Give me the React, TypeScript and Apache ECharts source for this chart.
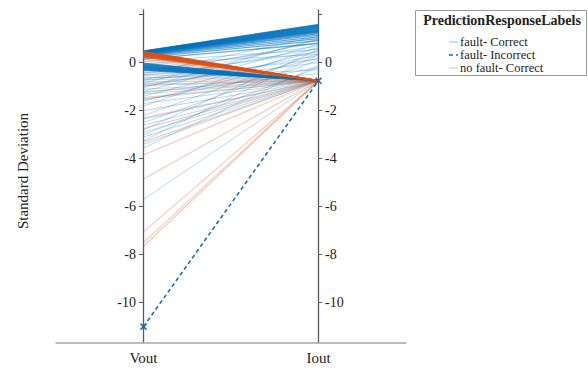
import React, { useEffect, useRef } from "react";
import * as echarts from "echarts";

// Axis labels
const coordNames = ["Vout", "Iout"];
const yTicks = [-10, -8, -6, -4, -2, 0, 2];
const yLabelTicks = [-10, -8, -6, -4, -2, 0];

// fault- Correct: dense upper bundle [Vout, Iout]
const faultUpper: [number, number][] = [
  [0.49, 1.6], [0.48, 1.58], [0.47, 1.56], [0.47, 1.54], [0.46, 1.52], [0.45, 1.5],
  [0.45, 1.48], [0.44, 1.46], [0.43, 1.44], [0.43, 1.42], [0.42, 1.4], [0.41, 1.38],
  [0.4, 1.36], [0.4, 1.34], [0.39, 1.32], [0.38, 1.3], [0.37, 1.27], [0.36, 1.24],
  [0.34, 1.2], [0.32, 1.15], [0.3, 1.08], [0.27, 1.0], [0.22, 0.92], [0.15, 0.8],
];

// fault- Correct: dense lower band converging to Iout -0.75
const faultLower: [number, number][] = [
  [-0.02, -0.74], [-0.04, -0.75], [-0.06, -0.75], [-0.08, -0.74], [-0.1, -0.75],
  [-0.12, -0.76], [-0.14, -0.75], [-0.16, -0.75], [-0.18, -0.74], [-0.2, -0.75],
  [-0.22, -0.76], [-0.24, -0.75], [-0.26, -0.75], [-0.28, -0.75], [-0.3, -0.74],
  [-0.32, -0.75],
];

// fault- Correct: scattered lines
const faultScatter: [number, number][] = [
  [0.05, 0.55], [-0.05, 0.35], [-0.35, 0.7], [-0.45, 1.1], [-0.5, 0.85], [-0.55, 0.45],
  [-0.6, -0.75], [-0.65, -0.3], [-0.7, 0.6], [-0.8, -0.75], [-0.85, 0.95], [-0.9, 0.0],
  [-0.95, -0.75], [-1.0, 0.3], [-1.1, -0.75], [-1.2, 0.75], [-1.25, -0.45], [-1.3, -0.75],
  [-1.4, 0.5], [-1.5, -0.75], [-1.6, 0.2], [-1.7, -0.75], [-1.8, 0.65], [-2.0, -0.75],
  [-2.2, 0.4], [-2.35, -0.75], [-2.5, 0.1], [-2.6, -0.75], [-2.8, 0.55], [-2.9, -0.75],
  [-3.0, -0.2], [-3.1, -0.75], [-3.25, 0.35], [-3.4, -0.75], [-3.55, -0.1], [-5.7, -0.75],
  [-0.4, -0.75], [-0.75, 0.15], [-1.05, 1.0], [-1.55, -0.2],
];

// no fault- Correct: dense bundle
const noFaultBundle: [number, number][] = [
  [0.47, -0.75], [0.46, -0.75], [0.45, -0.75], [0.44, -0.75], [0.43, -0.75], [0.42, -0.75],
  [0.41, -0.75], [0.4, -0.75], [0.39, -0.75], [0.38, -0.75], [0.37, -0.75], [0.36, -0.75],
  [0.35, -0.75], [0.34, -0.75], [0.32, -0.75], [0.3, -0.75], [0.28, -0.75], [0.26, -0.75],
  [0.24, -0.75], [0.22, -0.75],
];

// no fault- Correct: scattered lines
const noFaultScatter: [number, number][] = [
  [0.15, -0.75], [0.08, -0.75], [-0.5, -0.75], [-0.7, -0.75], [-0.9, -0.75], [-1.2, -0.75],
  [-1.45, -0.75], [-2.3, -0.75], [-2.75, -0.75], [-3.3, -0.75], [-3.85, -0.75],
  [-4.85, -0.75], [-7.05, -0.75], [-7.5, -0.75], [-7.65, -0.75],
];

// fault- Incorrect
const faultIncorrect: [number, number][] = [[-11.0, -0.75]];

const BLUE = "#0072BD";
const ORANGE = "#D95319";
const DASH = "#1a6fa3";
const FONT = "Liberation Serif";

function lineSeries(pairs: [number, number][], color: string, opacity: number, width: number) {
  return pairs.map((p) => ({
    type: "line",
    data: [[1, p[0]], [2, p[1]]],
    symbol: "none",
    silent: true,
    lineStyle: { color, opacity, width },
    z: 2,
  }));
}

export default function App() {
  const ref = useRef<HTMLDivElement>(null);
  useEffect(() => {
    if (!ref.current) return;
    const chart = echarts.init(ref.current, undefined, { renderer: "svg" });
    const series: any[] = [
      ...lineSeries(faultScatter, BLUE, 0.28, 1),
      ...lineSeries(faultUpper, BLUE, 0.6, 1.3),
      ...lineSeries(faultLower, BLUE, 0.6, 1.3),
      ...lineSeries(noFaultScatter, ORANGE, 0.3, 1.2),
      ...lineSeries(noFaultBundle, ORANGE, 0.6, 1.3),
      ...faultIncorrect.map((p) => ({
        type: "line",
        data: [[1, p[0]], [2, p[1]]],
        symbol: "path://M0,0L10,10M10,0L0,10",
        symbolSize: 6,
        showSymbol: true,
        silent: true,
        itemStyle: { color: "none", borderColor: DASH, borderWidth: 1.5 },
        lineStyle: { color: DASH, width: 1.6, type: [4, 3] },
        z: 5,
      })),
    ];
    const axisLabelStyle = { fontFamily: FONT, fontSize: 14, color: "#222" };
    const txt = (text: string, x: number, y: number, size: number, weight = "normal", align = "left") => ({
      type: "text",
      x,
      y,
      style: {
        text,
        fontFamily: FONT,
        fontSize: size,
        fontWeight: weight,
        fill: "#222",
        align,
        verticalAlign: "middle",
      },
    });
    chart.setOption({
      animation: false,
      backgroundColor: "#fff",
      grid: { left: 56, right: 182, top: 9.9, bottom: 27.3, containLabel: false, outerBoundsMode: "none" },
      xAxis: {
        type: "value",
        min: 0.5,
        max: 2.5,
        interval: 0.5,
        axisLine: { show: true, onZero: false, lineStyle: { color: "#a8a8a8", width: 1.5 } },
        axisTick: { show: false },
        splitLine: { show: false },
        axisLabel: {
          ...axisLabelStyle,
          fontSize: 15,
          margin: 8,
          formatter: (v: number) => (v === 1 ? coordNames[0] : v === 2 ? coordNames[1] : ""),
        },
      },
      yAxis: [
        {
          type: "value",
          min: -11.67,
          max: 2.2,
          position: "left",
          offset: -87,
          axisLine: { show: true, onZero: false, lineStyle: { color: "#5a5a5a", width: 1.3 } },
          axisTick: { show: true, inside: false, length: 4, customValues: yTicks, lineStyle: { color: "#5a5a5a" } },
          axisLabel: { ...axisLabelStyle, margin: 7, customValues: yLabelTicks },
          splitLine: { show: false },
        },
        {
          type: "value",
          min: -11.67,
          max: 2.2,
          position: "right",
          offset: -88,
          axisLine: { show: true, onZero: false, lineStyle: { color: "#5a5a5a", width: 1.3 } },
          axisTick: { show: true, inside: false, length: 4, customValues: yTicks, lineStyle: { color: "#5a5a5a" } },
          axisLabel: { ...axisLabelStyle, margin: 7, customValues: yLabelTicks },
          splitLine: { show: false },
        },
      ],
      series,
      graphic: [
        {
          ...txt("Standard Deviation", 23, 171, 15, "normal", "center"),
          rotation: Math.PI / 2,
        },
        {
          type: "group",
          children: [
            {
              type: "rect",
              shape: { x: 415.5, y: 10.5, width: 171, height: 65 },
              style: { fill: "#fff", stroke: "#9a9a9a", lineWidth: 1 },
            },
            txt("PredictionResponseLabels", 502, 20, 14, "bold", "center"),
            {
              type: "line",
              shape: { x1: 449, y1: 42, x2: 458, y2: 42 },
              style: { stroke: "#9cc9e8", lineWidth: 1.2 },
            },
            txt("fault- Correct", 460, 41.5, 12.5),
            {
              type: "line",
              shape: { x1: 449, y1: 55, x2: 458, y2: 55 },
              style: { stroke: DASH, lineWidth: 1.6, lineDash: [4, 3] },
            },
            txt("fault- Incorrect", 460, 54.5, 12.5),
            {
              type: "line",
              shape: { x1: 449, y1: 68, x2: 458, y2: 68 },
              style: { stroke: "#f0c2ad", lineWidth: 1.2 },
            },
            txt("no fault- Correct", 460, 67.5, 12.5),
          ],
        },
      ],
    });
    return () => chart.dispose();
  }, []);
  return (
    <div
      ref={ref}
      style={{ position: "fixed", left: 0, top: 0, width: 588, height: 370, background: "#fff" }}
    />
  );
}
